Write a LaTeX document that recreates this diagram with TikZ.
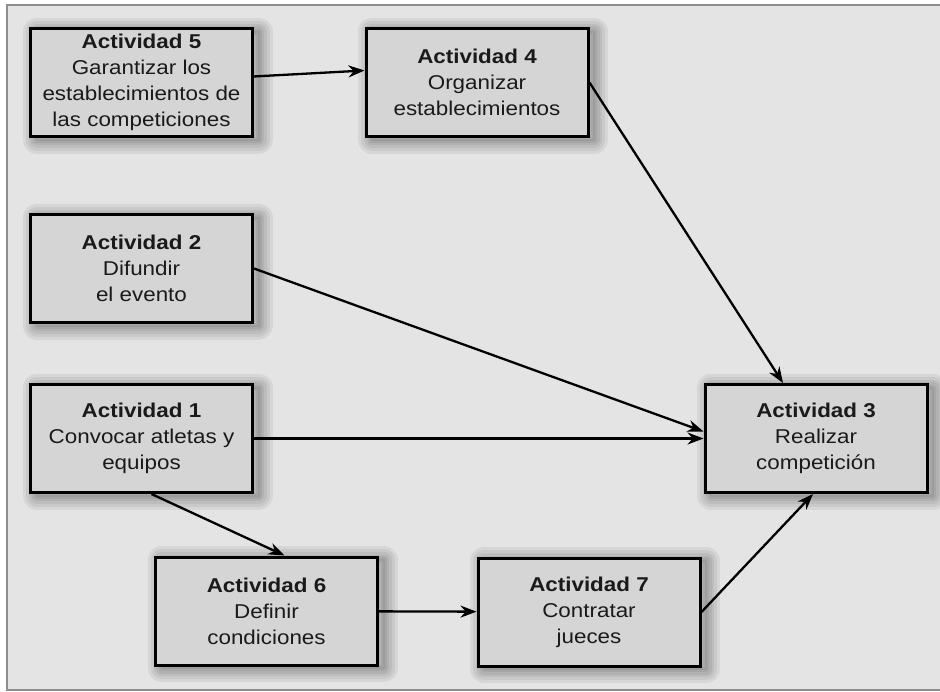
\documentclass[tikz,border=0pt]{standalone}
\usepackage{fontspec}
\setmainfont{Liberation Sans}[FakeStretch=1.12]
\usetikzlibrary{arrows.meta}
\definecolor{fondo}{HTML}{E4E4E4}
\definecolor{caja}{HTML}{D5D5D5}
\definecolor{marco}{HTML}{8E8E8E}
\definecolor{texto}{HTML}{1A1A1A}
\tikzset{
    capa/.style={preaction={draw=black, draw opacity=0.06, line width=#1, line join=round,
        transform canvas={shift={(6pt,-3pt)}}}},
    sombra/.style={capa=28pt, capa=22pt, capa=16pt, capa=11pt, capa=6pt, capa=2pt}
}
\begin{document}
\begin{tikzpicture}[x=1pt, y=-1pt,
    act/.style={rectangle, draw=black, line width=3pt, fill=caja, text=texto,
        minimum width=222pt, minimum height=108pt, inner sep=0pt, align=center,
        font=\fontsize{20}{26}\selectfont, sombra},
    flecha/.style={-{Stealth[length=16pt, width=12pt]}, line width=2.3pt}]
    \useasboundingbox (0,0) rectangle (940,691);
    \clip (0,0) rectangle (940,691);
    \fill[fondo] (7,5) rectangle (950,690);
    \draw[marco, line width=2.5pt] (950,5) -- (7,5) -- (7,690) -- (950,690);
    % actividades
    \node[act] (a5) at (141.5, 82.5) {\textbf{Actividad 5}\\Garantizar los\\establecimientos de\\las competiciones};
    \node[act] (a4) at (477, 82.5) {\textbf{Actividad 4}\\Organizar\\establecimientos};
    \node[act] (a2) at (141.5, 268.5) {\textbf{Actividad 2}\\Difundir\\el evento};
    \node[act] (a1) at (141.5, 438.5) {\textbf{Actividad 1}\\Convocar atletas y\\equipos};
    \node[act] (a3) at (816, 438.5) {\textbf{Actividad 3}\\Realizar\\competición};
    \node[act] (a6) at (266.5, 611) {\textbf{Actividad 6}\\Definir\\condiciones};
    \node[act] (a7) at (589, 612) {\textbf{Actividad 7}\\Contratar\\jueces};
    % dependencias
    \draw[flecha] (a5) -- ([yshift=12pt]a4.west);
    \draw[flecha] (a4.east) -- ([xshift=-33pt]a3.north);
    \draw[flecha] (a2.east) -- ([yshift=7pt]a3.west);
    \draw[flecha] (a1) -- (a3);
    \draw[flecha] ([xshift=10pt]a1.south) -- ([xshift=18pt]a6.north);
    \draw[flecha] (a6) -- (a7);
    \draw[flecha] (a7.east) -- ([xshift=-3pt]a3.south);
\end{tikzpicture}
\end{document}
